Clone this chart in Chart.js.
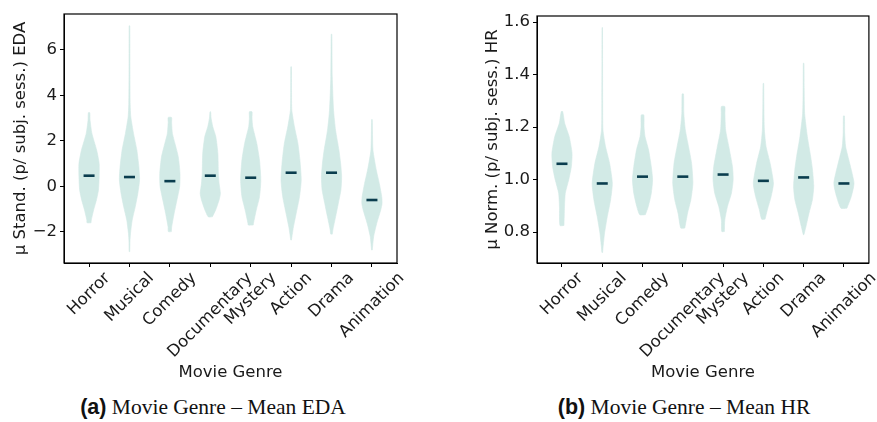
<!DOCTYPE html>
<html lang="en">
<head>
  <meta charset="UTF-8">
  <title>Movie Genre – Mean EDA / HR</title>
  <script src="https://cdn.jsdelivr.net/npm/chart.js"></script>
  <style>
    body { margin: 0; background: #fff; width: 877px; height: 422px; position: relative; overflow: hidden; }
    .panel { position: absolute; top: 0; height: 387px; }
    .caption {
      position: absolute; top: 395px; width: 400px; text-align: center;
      font-family: 'Liberation Serif', serif; font-size: 21.5px; color: #111; white-space: nowrap;
    }
    .caption b { font-family: 'Liberation Sans', sans-serif; font-weight: bold; }
  </style>
</head>
<body>
  <div class="panel" style="left:0;width:440px"><canvas id="eda"></canvas></div>
  <div class="panel" style="left:440px;width:437px"><canvas id="hr"></canvas></div>
  <div class="caption" style="left:13px"><b>(a)</b> Movie Genre – Mean EDA</div>
  <div class="caption" style="left:484px"><b>(b)</b> Movie Genre – Mean HR</div>

  <script>
    const genres = ['Horror', 'Musical', 'Comedy', 'Documentary', 'Mystery', 'Action', 'Drama', 'Animation'];

    const edaMeans = [0.47, 0.41, 0.23, 0.47, 0.38, 0.60, 0.60, -0.60];
    const hrMeans = [1.060, 0.985, 1.011, 1.011, 1.019, 0.995, 1.008, 0.985];

    const edaTicks = [-2, 0, 2, 4, 6];
    const hrTicks = [0.8, 1.0, 1.2, 1.4, 1.6];

    // violin outlines: value levels and relative half-widths (1 = widest)
    const edaLevels = [
      [-1.6, -1.48, -1.04, -0.6, -0.16, 0.42, 1.01, 1.6, 2.33, 2.91, 3.24],
      [-2.87, -2.4, -2.07, -1.48, -0.9, -0.31, 0.28, 0.86, 1.6, 2.33, 3.06, 3.6, 4.5, 5.5, 7.06],
      [-1.99, -1.78, -1.19, -0.6, 0, 0.57, 1.3, 1.89, 2.33, 2.8, 3.03],
      [-1.34, -1.04, -0.6, -0.31, 0.1, 0.57, 1.45, 2.18, 2.62, 3.0, 3.28],
      [-1.7, -1.63, -1.04, -0.46, 0.28, 1.16, 1.89, 2.62, 3.0, 3.28],
      [-2.36, -2.1, -1.78, -1.19, -0.46, 0.28, 1.16, 1.89, 2.62, 3.35, 4.2, 5.26],
      [-2.1, -1.92, -1.34, -0.75, -0.16, 0.42, 1.01, 1.6, 2.47, 3.35, 4.82, 6.69],
      [-2.8, -2.2, -1.63, -1.04, -0.75, -0.46, 0.13, 0.72, 1.6, 2.94]
    ];
    const edaWidths = [
      [0.2, 0.22, 0.45, 0.73, 0.93, 1.0, 1.0, 0.75, 0.28, 0.1, 0.07],
      [0.03, 0.05, 0.1, 0.27, 0.57, 0.83, 1.0, 0.93, 0.73, 0.4, 0.13, 0.07, 0.05, 0.04, 0.03],
      [0.15, 0.18, 0.42, 0.7, 0.97, 1.0, 0.83, 0.5, 0.25, 0.17, 0.17],
      [0.2, 0.53, 0.87, 1.0, 0.88, 0.8, 0.75, 0.55, 0.25, 0.08, 0.03],
      [0.25, 0.27, 0.55, 0.87, 1.0, 0.87, 0.6, 0.2, 0.13, 0.13],
      [0.03, 0.12, 0.23, 0.5, 0.83, 1.0, 0.87, 0.67, 0.33, 0.07, 0.04, 0.03],
      [0.08, 0.13, 0.4, 0.67, 0.93, 1.0, 0.9, 0.73, 0.4, 0.2, 0.07, 0.03],
      [0.03, 0.17, 0.47, 0.87, 1.0, 0.97, 0.73, 0.43, 0.1, 0.03]
    ];

    const hrLevels = [
      [0.825, 0.897, 0.948, 0.999, 1.049, 1.1, 1.163, 1.214, 1.259],
      [0.722, 0.75, 0.796, 0.859, 0.923, 0.986, 1.062, 1.125, 1.189, 1.3, 1.45, 1.579],
      [0.866, 0.897, 0.948, 0.999, 1.049, 1.113, 1.163, 1.2, 1.246],
      [0.815, 0.872, 0.923, 0.986, 1.062, 1.125, 1.189, 1.252, 1.326],
      [0.802, 0.846, 0.897, 0.948, 0.999, 1.049, 1.125, 1.189, 1.25, 1.278],
      [0.849, 0.885, 0.935, 0.986, 1.062, 1.125, 1.189, 1.28, 1.366],
      [0.79, 0.821, 0.872, 0.923, 0.973, 1.037, 1.087, 1.163, 1.252, 1.35, 1.443],
      [0.891, 0.935, 0.986, 1.062, 1.125, 1.18, 1.242]
    ];
    const hrWidths = [
      [0.2, 0.25, 0.33, 0.67, 0.93, 1.0, 0.72, 0.27, 0.07],
      [0.03, 0.1, 0.23, 0.5, 0.83, 1.0, 0.73, 0.33, 0.07, 0.04, 0.03, 0.02],
      [0.28, 0.57, 0.87, 1.0, 0.87, 0.6, 0.25, 0.15, 0.13],
      [0.2, 0.47, 0.8, 1.0, 0.87, 0.57, 0.25, 0.1, 0.07],
      [0.13, 0.17, 0.43, 0.83, 1.0, 0.93, 0.57, 0.25, 0.18, 0.17],
      [0.17, 0.4, 0.77, 1.0, 0.67, 0.27, 0.1, 0.05, 0.03],
      [0.03, 0.23, 0.53, 0.87, 1.0, 0.88, 0.7, 0.37, 0.1, 0.05, 0.03],
      [0.3, 0.73, 1.0, 0.57, 0.17, 0.07, 0.05]
    ];

    const FONT = 'DejaVu Sans';
    const INK = '#1a1a1a';
    const VIOLIN = '#d2eae6';
    const MEAN = '#0a3d4e';
    const HALF = 0.25;

    // outline of one violin: up the right side, down the left side
    function violinPoints(i, levels, widths) {
      const right = levels.map((y, k) => ({ x: i + HALF * widths[k], y: y }));
      const left = levels.map((y, k) => ({ x: i - HALF * widths[k], y: y })).reverse();
      return right.concat(left, [right[0]]);
    }

    const frame = {
      id: 'frame',
      afterDraw(chart) {
        const a = chart.chartArea, ctx = chart.ctx;
        ctx.save();
        ctx.strokeStyle = '#000';
        ctx.lineWidth = 1.2;
        ctx.strokeRect(a.left, a.top, a.right - a.left, a.bottom - a.top);
        ctx.restore();
      }
    };

    // rotated category names, centred under each tick
    const genreLabels = {
      id: 'genreLabels',
      afterDraw(chart) {
        const ctx = chart.ctx, xs = chart.scales.x;
        const y0 = chart.chartArea.bottom + 8;
        ctx.save();
        ctx.font = '16.5px "' + FONT + '"';
        ctx.fillStyle = INK;
        ctx.textAlign = 'center';
        ctx.textBaseline = 'middle';
        genres.forEach((g, i) => {
          const w = ctx.measureText(g).width;
          const off = (w + 13) * Math.SQRT1_2 / 2;
          ctx.save();
          ctx.translate(xs.getPixelForValue(i), y0 + off);
          ctx.rotate(-Math.PI / 4);
          ctx.fillText(g, 0, 0);
          ctx.restore();
        });
        ctx.restore();
      }
    };

    function makeChart(id, means, levels, widths, yMin, yMax, yTicks, yTitle, fmt, pad, axisW) {
      const datasets = [{
        data: means.map((m, i) => ({ x: i, y: m })),
        pointStyle: 'line',
        pointRadius: 5.5,
        pointBorderWidth: 2.6,
        pointBorderColor: MEAN,
        showLine: false,
        order: 0
      }];
      levels.forEach((lv, i) => {
        datasets.push({
          data: violinPoints(i, lv, widths[i]),
          showLine: true,
          fill: 'shape',
          backgroundColor: VIOLIN,
          borderColor: VIOLIN,
          borderWidth: 0.6,
          pointRadius: 0,
          tension: 0.2,
          order: 1
        });
      });

      return new Chart(document.getElementById(id), {
        type: 'scatter',
        data: { datasets: datasets },
        options: {
          responsive: true,
          maintainAspectRatio: false,
          animation: false,
          layout: { padding: pad },
          plugins: { legend: { display: false }, tooltip: { enabled: false } },
          scales: {
            x: {
              type: 'linear',
              min: -0.62,
              max: 7.62,
              afterBuildTicks: s => { s.ticks = genres.map((_, i) => ({ value: i })); },
              afterFit: s => { s.height = 124; },
              ticks: { display: false },
              grid: { drawOnChartArea: false, drawTicks: true, tickLength: 4, color: '#000' },
              border: { display: true, color: '#000' },
              title: { display: true, text: 'Movie Genre', color: INK, font: { family: FONT, size: 16.5 }, padding: { top: 4, bottom: 4 } }
            },
            y: {
              min: yMin,
              max: yMax,
              afterBuildTicks: s => { s.ticks = yTicks.map(v => ({ value: v })); },
              afterFit: s => { s.width = axisW; },
              ticks: { color: INK, font: { family: FONT, size: 16.5 }, padding: 3, callback: fmt },
              grid: { drawOnChartArea: false, drawTicks: true, tickLength: 4, color: '#000' },
              border: { display: true, color: '#000' },
              title: { display: true, text: yTitle, color: INK, font: { family: FONT, size: 16.5 }, padding: { top: 4, bottom: 4 } }
            }
          }
        },
        plugins: [frame, genreLabels]
      });
    }

    makeChart('eda', edaMeans, edaLevels, edaWidths, -3.37, 7.58, edaTicks,
      'μ Stand. (p/ subj. sess.) EDA',
      v => (v < 0 ? '\u2212' + Math.abs(v) : String(v)),
      { top: 14, right: 43, left: 7, bottom: 0 }, 57);

    makeChart('hr', hrMeans, hrLevels, hrWidths, 0.682, 1.623, hrTicks,
      'μ Norm. (p/ subj. sess.) HR',
      v => v.toFixed(1),
      { top: 16, right: 8, left: 39, bottom: 0 }, 58);
  </script>
</body>
</html>
